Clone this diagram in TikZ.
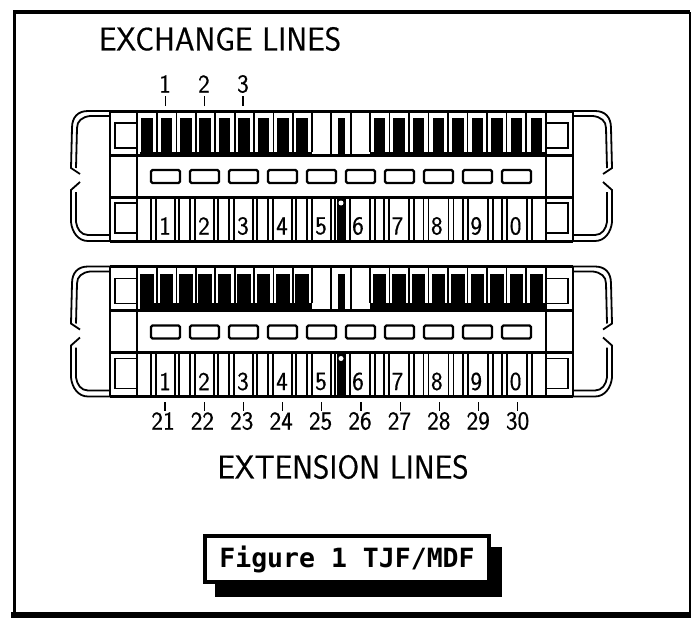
\documentclass[tikz,border=0pt]{standalone}
\usepackage{fontspec}
\newfontfamily\linefont[FakeStretch=0.95, FakeBold=0.5]{Latin Modern Sans}
\newfontfamily\figfont{DejaVu Sans Mono Bold}
\tikzset{
    caption/.style = {inner sep=0, font=\linefont\fontsize{33}{33}\selectfont},
    number/.style = {inner sep=0, font=\linefont\fontsize{26}{26}\selectfont},
    heavy/.style = {line width=3pt},
    fine/.style = {line width=1.8pt},
    tick/.style = {line width=1.2pt}
}
\begin{document}
\begin{tikzpicture}[x=1pt, y=-1pt]
        \useasboundingbox (0, 0) rectangle (691, 618);
        % frame
        \draw [line width=4pt] (13, 12) -- (690, 12);
        \draw [line width=3pt] (14.5, 12) -- (14.5, 613);
        \draw [line width=2pt] (689.5, 12) -- (689.5, 613);
        \fill (11, 612) rectangle (691, 618);
        \node [caption] (exchange) at (220, 39) {EXCHANGE LINES};
        \node [caption] (extension) at (343, 467) {EXTENSION LINES};
        % the two strips
        \foreach \off/\tw/\bandtop in {0/11.5/152, 155.5/13.5/147} {
            \begin{scope}[shift={(0, \off)}]
                % teeth
                \foreach \i in {0, ..., 8} {
                    \fill ({147 + 19.4*\i - \tw/2}, 118) rectangle ({147 + 19.4*\i + \tw/2}, 155);
                    \fill ({379.5 + 19.6*\i - \tw/2}, 118) rectangle ({379.5 + 19.6*\i + \tw/2}, 155);
                }
                \fill (140, \bandtop) rectangle (312, 155);
                \fill (370, \bandtop) rectangle (545, 155);
                \fill (337.5, 118) rectangle (344.5, 155);
                \foreach \i in {0, ..., 8} {
                    \draw [fine] ({157 + 19.4*\i}, 110) -- ({157 + 19.4*\i}, \bandtop);
                }
                \foreach \i in {0, ..., 9} {
                    \draw [fine] ({370 + 19.5*\i}, 110) -- ({370 + 19.5*\i}, \bandtop);
                }
                \draw [fine] (331, 110) -- (331, 155);
                \draw [fine] (351, 110) -- (351, 155);
                % slots
                \foreach \i in {0, ..., 9} {
                    \draw [line width=2.2pt, rounded corners=1.5pt] ({151 + 39*\i}, 170) rectangle ({180 + 39*\i}, 183);
                }
                % cells under the slots
                \foreach \i in {0, ..., 4} {
                    \draw [fine] ({151 + 39*\i}, 197) -- ({151 + 39*\i}, 241);
                    \draw [fine] ({156 + 39*\i}, 197) -- ({156 + 39*\i}, 241);
                    \draw [fine] ({175 + 39*\i}, 197) -- ({175 + 39*\i}, 241);
                    \draw [fine] ({179 + 39*\i}, 197) -- ({179 + 39*\i}, 241);
                    \draw [fine] ({345 + 39.2*\i}, 197) -- ({345 + 39.2*\i}, 241);
                    \draw [fine] ({350 + 39.2*\i}, 197) -- ({350 + 39.2*\i}, 241);
                    \draw [fine] ({370 + 39.2*\i}, 197) -- ({370 + 39.2*\i}, 241);
                    \draw [fine] ({375 + 39.2*\i}, 197) -- ({375 + 39.2*\i}, 241);
                }
                \fill (337, 197) rectangle (345, 241);
                \fill [white] (341, 203) circle (2.5);
                \foreach \d [count=\i from 0] in {1, 2, 3, 4, 5} {
                    \node [number] (cell\off-\d) at ({165 + 39*\i}, 226) {\d};
                }
                \foreach \d [count=\i from 0] in {6, 7, 8, 9, 0} {
                    \node [number] (cell\off-\d) at ({358 + 39.4*\i}, 226) {\d};
                }
                % body
                \draw [heavy] (110, 111) -- (573, 111);
                \draw [heavy] (110, 155) -- (573, 155);
                \draw [heavy] (110, 197) -- (573, 197);
                \draw [heavy] (110, 241) -- (573, 241);
                % ends, the right one mirrors the left one
                \foreach \sx/\ox in {1/0, -1/683} {
                    \begin{scope}[shift={(\ox, 0)}, xscale=\sx]
                        \draw [fine] (110, 111) -- (110, 241);
                        \draw [fine] (137, 111) -- (137, 241);
                        \draw [fine] (115, 123) rectangle (137, 148);
                        \draw [fine] (137, 203) -- (115, 203) -- (115, 233) -- (137, 233);
                        \draw [fine] (110, 111) -- (88, 111) .. controls (78, 111) and (72, 117) .. (72, 128) -- (71, 168) -- (80, 174);
                        \draw [fine] (110, 116) -- (90, 116) .. controls (82, 117) and (77, 121) .. (77, 128) -- (76, 168);
                        \draw [fine] (80, 182) -- (71, 190) -- (71, 222) .. controls (72, 232) and (78, 241) .. (88, 241) -- (110, 241);
                        \draw [fine] (76, 192) -- (76, 222) .. controls (77, 229) and (81, 235) .. (88, 235) -- (110, 235);
                    \end{scope}
                }
            \end{scope}
        }
        % line numbers above and below
        \foreach \n [count=\i from 0] in {1, 2, 3} {
            \node [number] (up\n) at ({165 + 39*\i}, 84) {\n};
            \coordinate (uptick\n) at ({165.5 + 38.7*\i}, 106);
            \draw [tick] (uptick\n) -- ++(0, -10);
        }
        \foreach \n [count=\i from 0] in {21, 22, ..., 30} {
            \node [number] (down\n) at ({163 + 39.4*\i}, 421) {\n};
            \coordinate (downtick\n) at ({165 + 39.2*\i}, 402);
            \draw [tick] (downtick\n) -- ++(0, 9);
        }
        % figure label
        \fill (215, 547) rectangle (502, 597);
        \node [draw, line width=4pt, fill=white, minimum width=284pt, minimum height=46pt, inner sep=0,
            font=\figfont\fontsize{26.5}{26.5}\selectfont] (figlabel) at (347, 559) {Figure 1 TJF/MDF};
    \end{tikzpicture}
\end{document}
